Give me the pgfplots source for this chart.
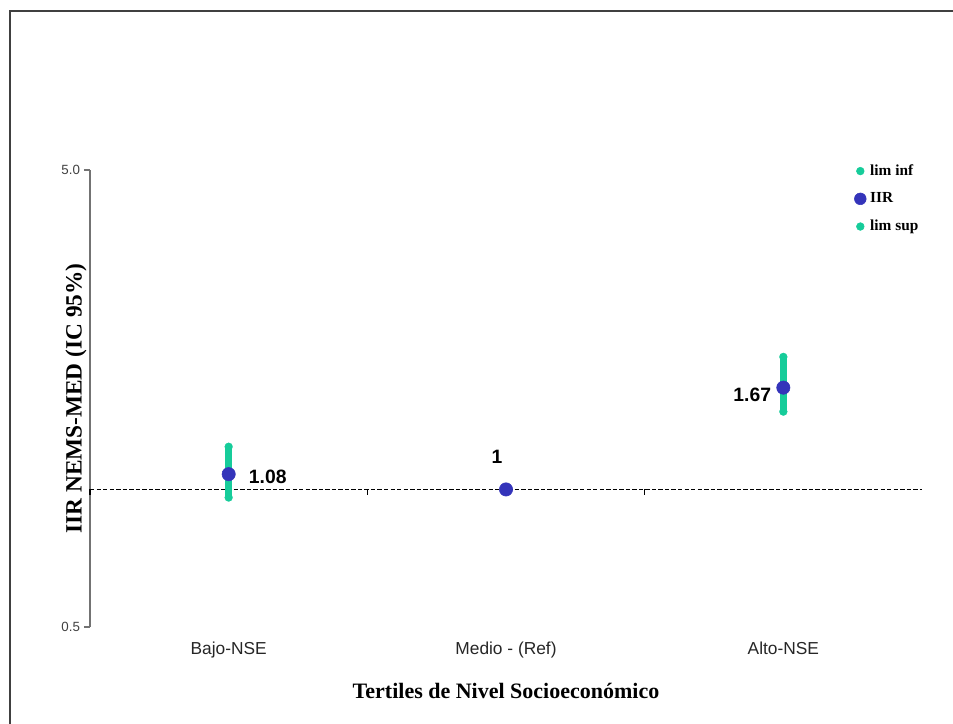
\documentclass[border=0pt]{standalone}
\usepackage{fontspec}
\setmainfont{Liberation Serif}
\newfontfamily\arial{Liberation Sans}
\usepackage{pgfplots}
\pgfplotsset{compat=1.18}
\definecolor{iirblue}{RGB}{52,52,186}
\definecolor{cigreen}{RGB}{22,204,154}
\begin{document}
\begin{tikzpicture}
\begin{axis}[
  at={(67.5pt,72.75pt)}, anchor=south west,
  scale only axis, width=624pt, height=342.75pt,
  xmin=-0.5, xmax=2.5,
  ymode=log, ymin=0.5, ymax=5,
  axis x line*=bottom, axis y line*=left,
  x axis line style={draw=none},
  y axis line style={black!55, line width=1.1pt, -},
  xtick={0,1,2},
  xticklabels={Bajo-NSE, Medio - (Ref), Alto-NSE},
  major x tick style={draw=none},
  xticklabel style={font=\arial\fontsize{13}{15}\selectfont, text=black!85, yshift=-3pt},
  ytick={0.5,5},
  yticklabels={0.5,5.0},
  yminorticks=false,
  major y tick style={black!55, line width=0.9pt},
  tick align=outside, major tick length=4.5pt,
  yticklabel style={font=\arial\fontsize{10}{12}\selectfont, text=black!75, xshift=0.5pt},
  xlabel={\bfseries Tertiles de Nivel Socioecon\'omico},
  xlabel style={at={(axis description cs:0.5,0)}, anchor=center, yshift=-48pt, font=\fontsize{16.5}{19}\selectfont},
  ylabel={\bfseries IIR NEMS-MED (IC 95\%)},
  ylabel style={at={(axis description cs:0,0.5)}, anchor=center, yshift=10.5pt, font=\fontsize{17.5}{20}\selectfont},
  clip=false,
  legend style={at={(axis description cs:0.9185,1.018)}, anchor=north west, draw=none, fill=none,
    font=\bfseries\fontsize{11.5}{13}\selectfont, row sep=7.5pt, inner sep=0pt,
    /tikz/every odd column/.append style={column sep=1pt}},
  legend cell align=left,
  legend image code/.code={\draw[#1] plot coordinates {(0pt,0pt)};},
]
% reference line at IIR = 1
\addplot[black, dash pattern=on 3.3pt off 1.6pt, line width=1.2pt, forget plot] coordinates {(-0.5,1) (2.5,1)};
\draw[black, line width=0.9pt] (axis cs:-0.5,1) -- ([yshift=-4pt]axis cs:-0.5,1);
\draw[black, line width=0.9pt] (axis cs:0.5,1) -- ([yshift=-4pt]axis cs:0.5,1);
\draw[black, line width=0.9pt] (axis cs:1.5,1) -- ([yshift=-4pt]axis cs:1.5,1);
% IIR points with labels
\addplot[only marks, mark=*, mark size=5pt, iirblue, forget plot,
  nodes near coords, point meta=explicit symbolic,
  every node near coord/.style={font=\arial\bfseries\fontsize{14.5}{16}\selectfont, text=black, inner sep=0pt, anchor=west, xshift=15pt, yshift=-2.25pt}]
  coordinates {(0,1.08) [1.08]};
\addplot[only marks, mark=*, mark size=5pt, iirblue, forget plot,
  nodes near coords, point meta=explicit symbolic,
  every node near coord/.style={font=\arial\bfseries\fontsize{14.5}{16}\selectfont, text=black, inner sep=0pt, anchor=center, xshift=-6.75pt, yshift=24.75pt}]
  coordinates {(1,1) [1]};
\addplot[only marks, mark=*, mark size=5pt, iirblue, forget plot,
  nodes near coords, point meta=explicit symbolic,
  every node near coord/.style={font=\arial\bfseries\fontsize{14.5}{16}\selectfont, text=black, inner sep=0pt, anchor=east, xshift=-9pt, yshift=-5.25pt}]
  coordinates {(2,1.67) [1.67]};
% confidence intervals
\addplot[cigreen, line width=5.5pt, line cap=round, mark=*, mark size=3pt, mark options={line width=0.1pt}, forget plot] coordinates {(0,0.96) (0,1.24)};
\addplot[cigreen, line width=5.5pt, line cap=round, mark=*, mark size=3pt, mark options={line width=0.1pt}, forget plot] coordinates {(2,1.48) (2,1.95)};
% legend
\addlegendimage{only marks, mark=*, mark size=2.9pt, cigreen}
\addlegendentry{lim inf}
\addlegendimage{only marks, mark=*, mark size=4.4pt, iirblue}
\addlegendentry{IIR}
\addlegendimage{only marks, mark=*, mark size=2.9pt, cigreen}
\addlegendentry{lim sup}
\end{axis}
% outer frame (left and top edges)
\draw[black!75, line width=1.1pt] (7.5pt,0pt) -- (7.5pt,534.75pt) -- (714.75pt,534.75pt);
\pgfresetboundingbox
\path[use as bounding box] (0pt,0pt) rectangle (714.75pt,543pt);
\end{tikzpicture}
\end{document}
